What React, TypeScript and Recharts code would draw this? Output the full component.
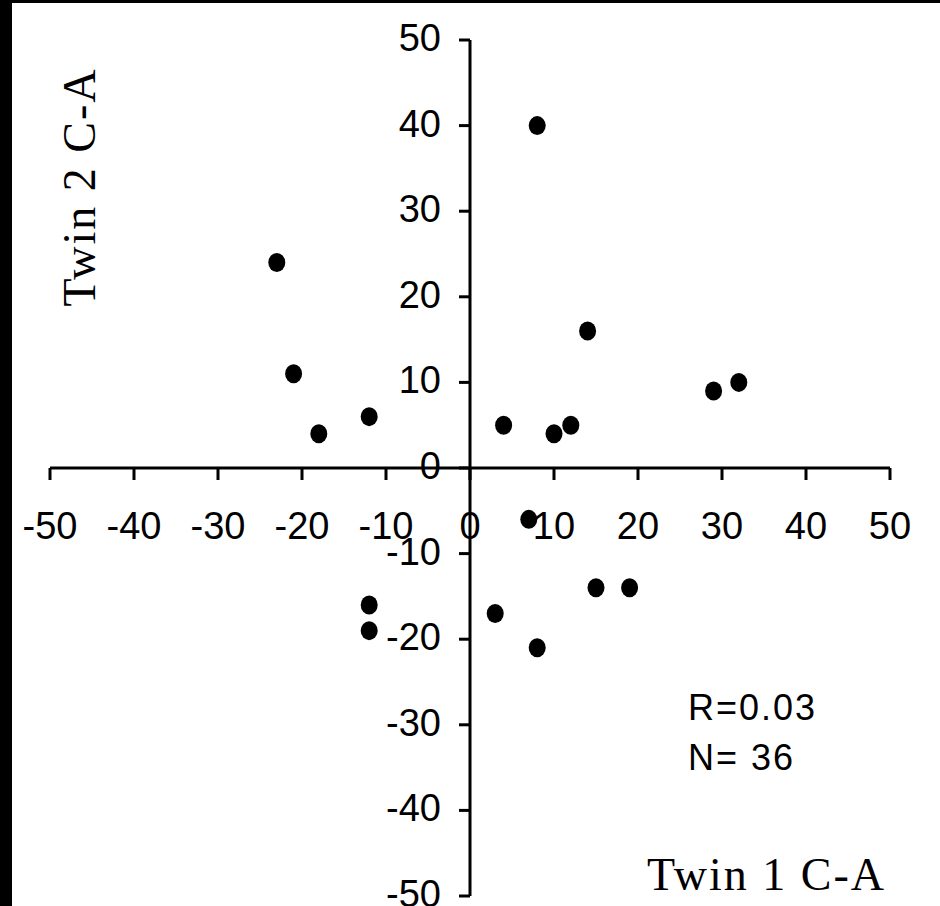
import { ReferenceDot, ReferenceLine, Scatter, ScatterChart, XAxis, YAxis } from 'recharts'

// Twin 1 vs Twin 2 C-A differences
const twin1 = [-23, -21, -18, -12, -12, -12, 4, 8, 10, 12, 14, 29, 32, 7, 3, 8, 15, 19]
const twin2 = [24, 11, 4, 6, -16, -19, 5, 40, 4, 5, 16, 9, 10, -6, -17, -21, -14, -14]

const xTicks = [-50, -40, -30, -20, -10, 0, 10, 20, 30, 40, 50]
const yTicks = [-50, -40, -30, -20, -10, 0, 10, 20, 30, 40, 50]

const TICK_FONT = '"Liberation Sans", Arial, sans-serif'
const TITLE_FONT = '"Liberation Serif", "Times New Roman", serif'

const points = twin1.map((x, i) => ({ x, y: twin2[i] }))

// axes cross at the origin, so ticks are drawn as reference dots on the zero lines
function xTickShape(value: number) {
  return (p: any) => (
    <g>
      <line x1={p.cx} y1={p.cy} x2={p.cx} y2={p.cy + 12} stroke="#000" strokeWidth={3} />
      <text
        x={p.cx}
        y={p.cy + 71}
        textAnchor="middle"
        fontFamily={TICK_FONT}
        fontSize={38}
        fill="#000"
      >
        {value}
      </text>
    </g>
  )
}

function yTickShape(value: number) {
  return (p: any) => (
    <g>
      <line x1={p.cx - 11} y1={p.cy} x2={p.cx} y2={p.cy} stroke="#000" strokeWidth={3} />
      <text
        x={p.cx - 29}
        y={p.cy + 11}
        textAnchor="end"
        fontFamily={TICK_FONT}
        fontSize={38}
        fill="#000"
      >
        {value}
      </text>
    </g>
  )
}

const Marker = (p: any) => <ellipse cx={p.cx} cy={p.cy} rx={8.5} ry={9.5} fill="#000" />

export default function App() {
  return (
    <div
      style={{
        position: 'absolute',
        left: 0,
        top: 0,
        width: 940,
        height: 906,
        background: '#fff',
        overflow: 'hidden',
      }}
    >
      <div style={{ position: 'absolute', left: 0, top: 0, width: 12, height: 906, background: '#000' }} />
      <div style={{ position: 'absolute', left: 0, top: 0, width: 940, height: 3, background: '#000' }} />
      <div style={{ position: 'absolute', left: 0, top: 0 }}>
        <ScatterChart width={940} height={906} margin={{ top: 40, right: 50, bottom: 10, left: 50 }}>
          <XAxis type="number" dataKey="x" domain={[-50, 50]} ticks={xTicks} hide />
          <YAxis type="number" dataKey="y" domain={[-50, 50]} ticks={yTicks} hide />
          <ReferenceLine y={0} stroke="#000" strokeWidth={3} />
          <ReferenceLine x={0} stroke="#000" strokeWidth={3} />
          {xTicks.map((t) => (
            <ReferenceDot key={`x${t}`} x={t} y={0} r={0} ifOverflow="visible" shape={xTickShape(t)} />
          ))}
          {yTicks.map((t) => (
            <ReferenceDot key={`y${t}`} x={0} y={t} r={0} ifOverflow="visible" shape={yTickShape(t)} />
          ))}
          <Scatter data={points} fill="#000" shape={Marker} isAnimationActive={false} />
        </ScatterChart>
      </div>
      <svg
        width={940}
        height={906}
        style={{ position: 'absolute', left: 0, top: 0, pointerEvents: 'none' }}
      >
        <text
          transform="translate(95,187) rotate(-90)"
          textAnchor="middle"
          fontFamily={TITLE_FONT}
          fontSize={46}
          letterSpacing={2}
          fill="#000"
        >
          Twin 2 C-A
        </text>
        <text
          x={886}
          y={890}
          textAnchor="end"
          fontFamily={TITLE_FONT}
          fontSize={46}
          letterSpacing={2}
          fill="#000"
        >
          Twin 1 C-A
        </text>
        <text x={688} y={720} fontFamily={TICK_FONT} fontSize={36} letterSpacing={2} fill="#000">
          R=0.03
        </text>
        <text x={688} y={770} fontFamily={TICK_FONT} fontSize={36} letterSpacing={2} fill="#000">
          N= 36
        </text>
      </svg>
    </div>
  )
}
